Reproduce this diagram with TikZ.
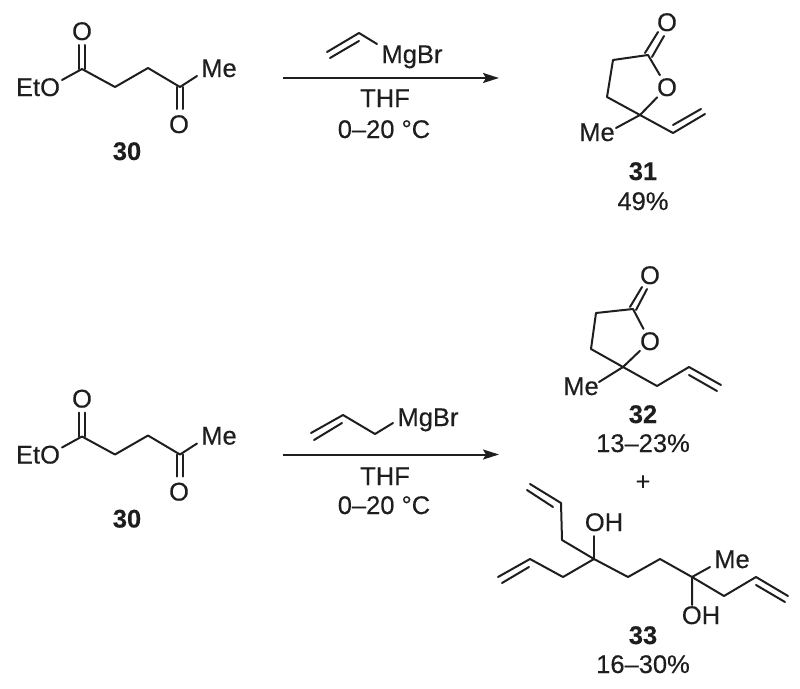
\documentclass[tikz,border=0pt]{standalone}
\usepackage{fontspec}
\setmainfont{Liberation Sans}[FakeBold=0.35,BoldFeatures={FakeBold=0.15}]
\usetikzlibrary{arrows.meta}
\definecolor{ink}{HTML}{1E1E1E}
\tikzset{
  bond/.style={draw=ink,line width=2pt,line cap=round,line join=round},
  rxn/.style={draw=ink,line width=2pt,-{Stealth[length=16pt,width=10pt,inset=3pt]}},
  lab/.style={anchor=base,inner sep=0pt,outer sep=0pt,text=ink,font=\fontsize{25.5}{30}\selectfont},
  num/.style={lab,font=\fontsize{25.5}{30}\selectfont\bfseries},
  oxy/.style={lab,circle,inner sep=0.4pt},
}
\newcommand{\ketoester}{%
  \coordinate (c1) at (82,69);
  \coordinate (c1a) at (79,69);
  \coordinate (c1b) at (85,69);
  \coordinate (c2) at (115,87);
  \coordinate (c3) at (148,68);
  \coordinate (c4) at (180,87);
  \coordinate (c4a) at (177,87);
  \coordinate (c4b) at (183,87);
  \node[oxy] (o1) at (82,40) {O};
  \node[oxy] (o2) at (179,133) {O};
  \coordinate (o1a) at (79,45);
  \coordinate (o1b) at (85,45);
  \coordinate (o2a) at (177,109);
  \coordinate (o2b) at (183,109);
  \node[lab] (eto) at (38,96) {EtO};
  \node[lab] (me) at (219,77) {Me};
  \coordinate (etoe) at (62,80);
  \coordinate (mee) at (197,76);
  \node[num] (n30) at (127,160) {30};
  \draw[bond] (etoe) -- (c1) -- (c2) -- (c3) -- (c4) -- (mee);
  \draw[bond] (c1a) -- (o1a) (c1b) -- (o1b);
  \draw[bond] (c4a) -- (o2a) (c4b) -- (o2b);
}
\begin{document}
\begin{tikzpicture}[x=1pt,y=-1pt]
\path[use as bounding box] (0,0) rectangle (800,688);

% substrates
\begin{scope}[name prefix=a-]\ketoester\end{scope}
\begin{scope}[shift={(0,367.5)},name prefix=b-]\ketoester\end{scope}

% top reaction
\coordinate (ar1s) at (283,78);
\coordinate (ar1e) at (499,78);
\draw[rxn] (ar1s) -- (ar1e);
\coordinate (v1) at (327,52);
\coordinate (v2) at (359,33);
\coordinate (v3) at (377,44);
\coordinate (v1b) at (330,58);
\coordinate (v2b) at (359,41);
\draw[bond] (v1) -- (v2) -- (v3) (v1b) -- (v2b);
\node[lab] (mg1) at (412,63) {MgBr};
\node[lab] (thf1) at (385,107) {THF};
\node[lab] (tmp1) at (384,138) {0–20 °C};

% bottom reaction
\coordinate (ar2s) at (283,454.5);
\coordinate (ar2e) at (499,454.5);
\draw[rxn] (ar2s) -- (ar2e);
\coordinate (w1) at (311,433);
\coordinate (w2) at (343,415);
\coordinate (w3) at (375,434);
\coordinate (w4) at (393,423);
\coordinate (w1b) at (314,440);
\coordinate (w2b) at (342,423);
\draw[bond] (w1) -- (w2) -- (w3) -- (w4) (w1b) -- (w2b);
\node[lab] (mg2) at (428,426) {MgBr};
\node[lab] (thf2) at (385,485) {THF};
\node[lab] (tmp2) at (384,514) {0–20 °C};

% 31
\node[oxy] (p1o) at (667,31) {O};
\node[oxy] (p1r) at (667,96) {O};
\coordinate (p1c) at (648,55);
\coordinate (p1ca) at (645,53);
\coordinate (p1cb) at (652,57);
\coordinate (p1oa) at (658,32);
\coordinate (p1ob) at (664,36);
\coordinate (p1h1) at (613,60);
\coordinate (p1h2) at (607,97);
\coordinate (p1q) at (640,115);
\coordinate (p1me) at (616,128);
\coordinate (p1v1) at (673,133);
\coordinate (p1v2) at (705,114);
\coordinate (p1v3) at (673,125);
\coordinate (p1v4) at (701,109);
\node[lab] (p1m) at (597,141) {Me};
\draw[bond] (p1r) -- (p1c) -- (p1h1) -- (p1h2) -- (p1q) -- (p1r);
\draw[bond] (p1ca) -- (p1oa) (p1cb) -- (p1ob);
\draw[bond] (p1q) -- (p1me);
\draw[bond] (p1q) -- (p1v1) -- (p1v2) (p1v3) -- (p1v4);
\node[num] (n31) at (643,180) {31};
\node[lab] (y31) at (643,210) {49\%};

% 32
\node[oxy] (p2o) at (650,284) {O};
\node[oxy] (p2r) at (650,350) {O};
\coordinate (p2c) at (633,309);
\coordinate (p2ca) at (630,307);
\coordinate (p2cb) at (636,310);
\coordinate (p2oa) at (642,287);
\coordinate (p2ob) at (647,289);
\coordinate (p2h1) at (596,313);
\coordinate (p2h2) at (591,349);
\coordinate (p2q) at (623,367);
\coordinate (p2me) at (599,382);
\coordinate (p2a1) at (657,386);
\coordinate (p2a2) at (689,367);
\coordinate (p2a3) at (721,385);
\coordinate (p2a4) at (689,375);
\coordinate (p2a5) at (717,391);
\node[lab] (p2m) at (581,395) {Me};
\draw[bond] (p2r) -- (p2c) -- (p2h1) -- (p2h2) -- (p2q) -- (p2r);
\draw[bond] (p2ca) -- (p2oa) (p2cb) -- (p2ob);
\draw[bond] (p2q) -- (p2me);
\draw[bond] (p2q) -- (p2a1) -- (p2a2) -- (p2a3) (p2a4) -- (p2a5);
\node[num] (n32) at (643,423) {32};
\node[lab] (y32) at (643,452) {13–23\%};
\node[lab] (plus) at (643,490) {+};

% 33
\coordinate (t1) at (530,484);
\coordinate (t2) at (561,503);
\coordinate (t1b) at (527,490);
\coordinate (t2b) at (553,507);
\coordinate (t3) at (562,540);
\coordinate (q1) at (594,559);
\coordinate (oh1e) at (594,536);
\node[lab] (oh1) at (604,531) {OH};
\coordinate (l1) at (563,577);
\coordinate (l2) at (530,559);
\coordinate (l3) at (498,577);
\coordinate (l2b) at (529,567);
\coordinate (l3b) at (502,583);
\coordinate (r1) at (628,577);
\coordinate (r2) at (660,559);
\coordinate (q2) at (692,577);
\coordinate (mee) at (710,567);
\node[lab] (me33) at (732,568) {Me};
\coordinate (oh2e) at (692,605);
\node[lab] (oh2) at (701,624) {OH};
\coordinate (s1) at (724,596);
\coordinate (s2) at (756,577);
\coordinate (s3) at (788,596);
\coordinate (s2b) at (756,585);
\coordinate (s3b) at (785,602);
\draw[bond] (t1) -- (t2) -- (t3) -- (q1) -- (l1) -- (l2) -- (l3);
\draw[bond] (t1b) -- (t2b) (l2b) -- (l3b);
\draw[bond] (q1) -- (oh1e);
\draw[bond] (q1) -- (r1) -- (r2) -- (q2) -- (s1) -- (s2) -- (s3) (s2b) -- (s3b);
\draw[bond] (q2) -- (mee) (q2) -- (oh2e);
\node[num] (n33) at (643,644) {33};
\node[lab] (y33) at (643,673) {16–30\%};
\end{tikzpicture}
\end{document}
